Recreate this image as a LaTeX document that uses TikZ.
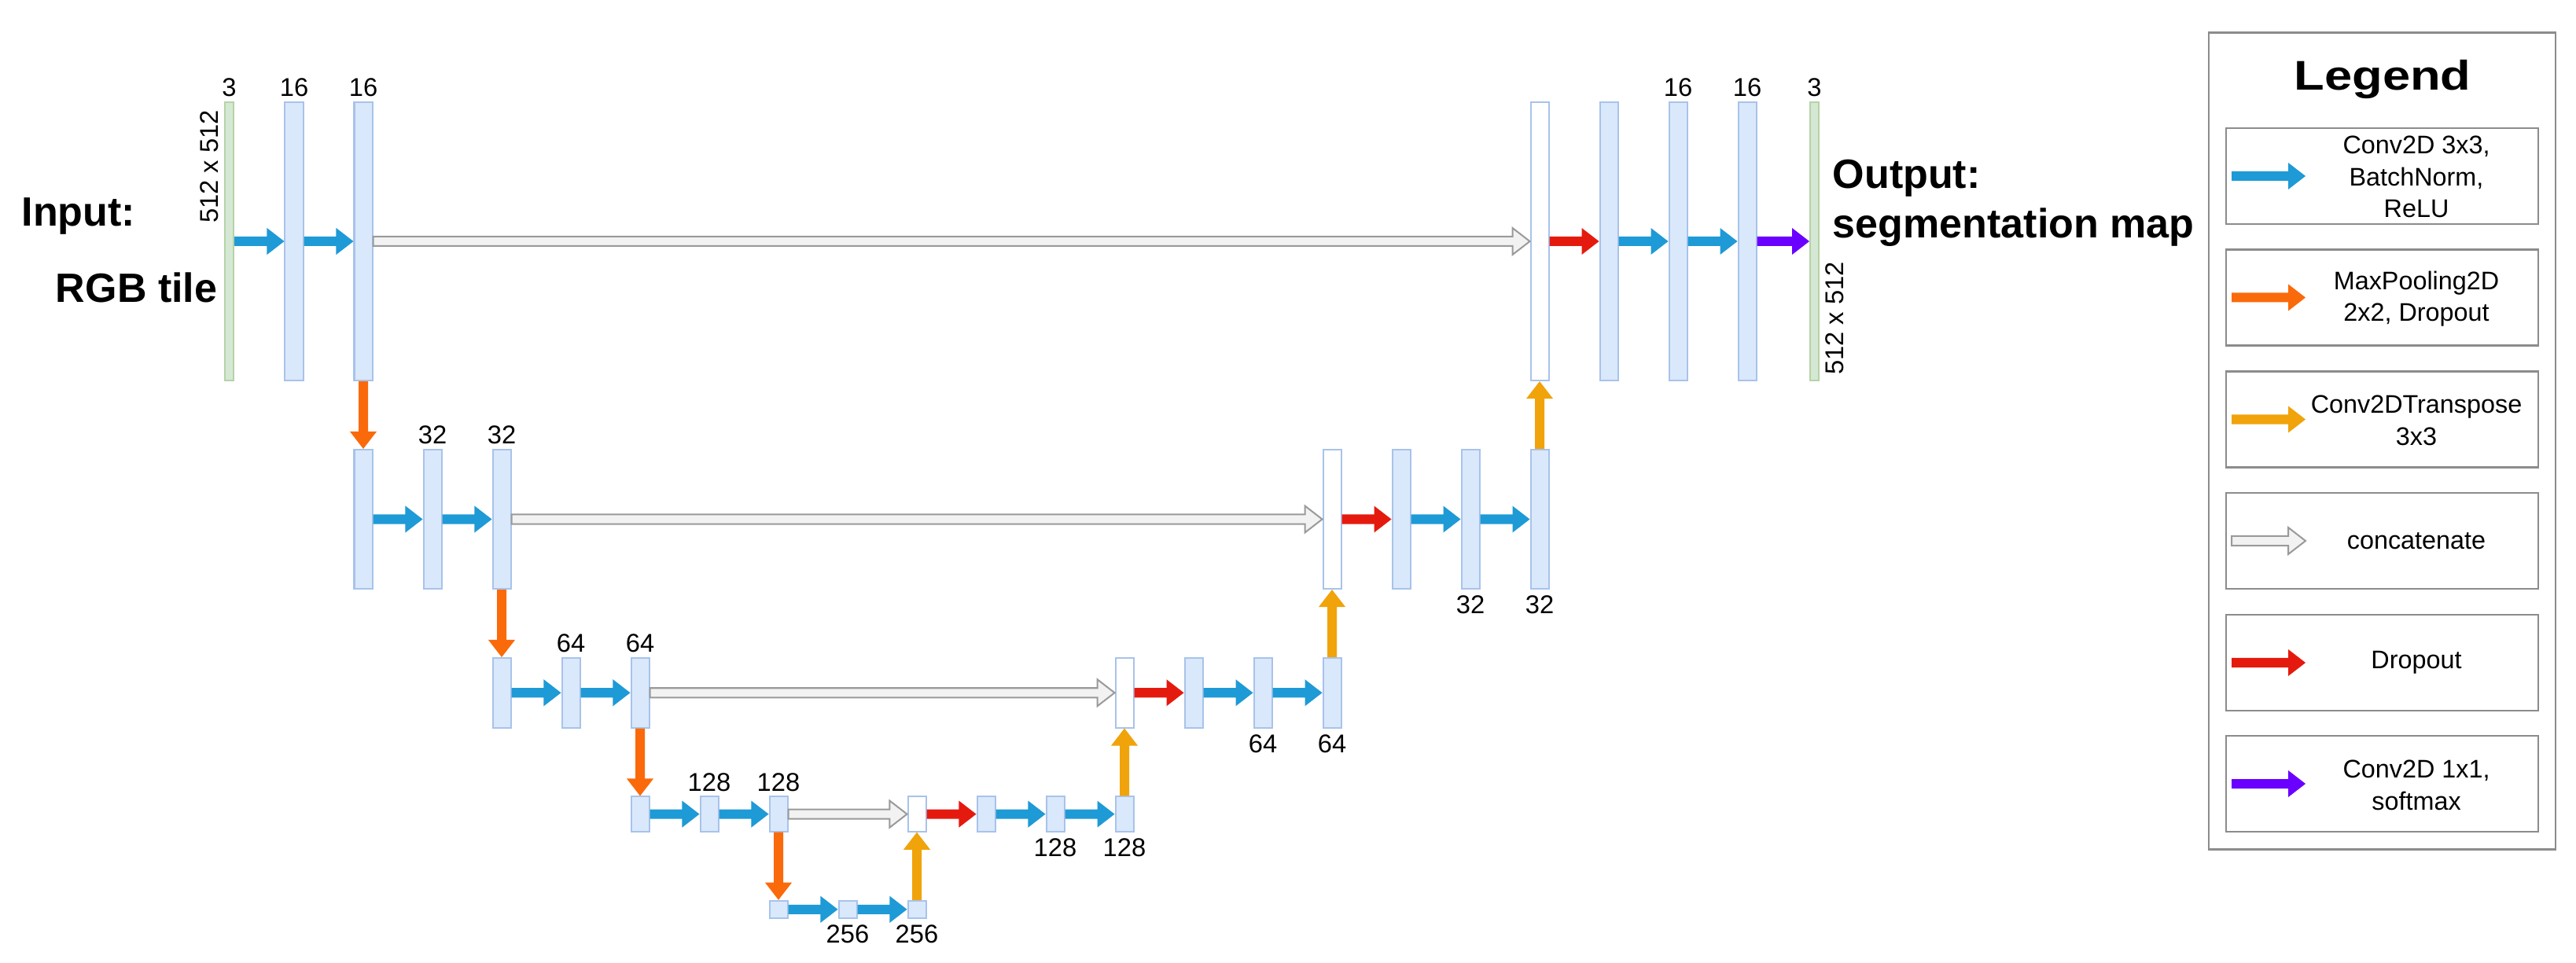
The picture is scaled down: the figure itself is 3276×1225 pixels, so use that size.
\documentclass[tikz,border=0pt]{standalone}
\usepackage{fontspec}
\setmainfont{Liberation Sans}
\newfontfamily\titlefam[FakeStretch=1.2]{Liberation Sans}
\usetikzlibrary{calc,positioning}
\definecolor{barfill}{HTML}{DAE8FC}
\definecolor{barline}{HTML}{A8C3EA}
\definecolor{grfill}{HTML}{D5E8D4}
\definecolor{grline}{HTML}{B5D3A7}
\definecolor{cblue}{HTML}{1E9AD6}
\definecolor{corange}{HTML}{FA6A0A}
\definecolor{cyellow}{HTML}{F0A30A}
\definecolor{cred}{HTML}{E51A0F}
\definecolor{cpurple}{HTML}{6A00FF}
\definecolor{cgrayfill}{HTML}{F2F2F2}
\definecolor{cgrayline}{HTML}{9A9A9A}
\definecolor{legline}{HTML}{8C8C8C}
\newcommand\arsw{0.06cm}
\newcommand\arhw{0.17cm}
\newcommand\arhl{0.22cm}
% horizontal fat arrow: style, start, tip
\newcommand\hfat[3]{\path[#1] let \p1=(#2), \p2=(#3) in
 (\x1,{\y1+\arsw}) -- ({\x2-\arhl},{\y1+\arsw}) -- ({\x2-\arhl},{\y1+\arhw}) -- (\x2,\y1)
 -- ({\x2-\arhl},{\y1-\arhw}) -- ({\x2-\arhl},{\y1-\arsw}) -- (\x1,{\y1-\arsw}) -- cycle;}
% vertical fat arrow: style, start, tip
\newcommand\vfat[3]{\path[#1] let \p1=(#2), \p2=(#3), \n1={ifthenelse(\y2>\y1,1,-1)} in
 ({\x1-\arsw},\y1) -- ({\x1-\arsw},{\y2-\n1*\arhl}) -- ({\x1-\arhw},{\y2-\n1*\arhl}) -- (\x1,\y2)
 -- ({\x1+\arhw},{\y2-\n1*\arhl}) -- ({\x1+\arsw},{\y2-\n1*\arhl}) -- ({\x1+\arsw},\y1) -- cycle;}
\newcommand\labfont{\fontsize{9.3pt}{11pt}\selectfont}
\newcommand\legfont{\fontsize{9.2pt}{11.5pt}\selectfont}
\newcommand\bigfont{\fontsize{14.8pt}{17pt}\selectfont\bfseries}
\newcommand\titfont{\fontsize{15pt}{17pt}\selectfont\titlefam\bfseries}
\begin{document}
\begin{tikzpicture}[x=0.01cm,y=-0.01cm,
  bar/.style={draw=barline, fill=barfill, line width=0.02cm, inner sep=0pt, minimum width=0.23cm},
  wbar/.style={bar, fill=white},
  gbar/.style={draw=grline, fill=grfill, line width=0.02cm, inner sep=0pt, minimum width=0.11cm, minimum height=3.54cm},
  hA/.style={minimum height=3.54cm},
  hB/.style={minimum height=1.77cm},
  hC/.style={minimum height=0.885cm},
  hD/.style={minimum height=0.4425cm},
  hE/.style={minimum height=0.221cm},
  lab/.style={inner sep=0pt, font=\labfont},
  big/.style={inner sep=0pt, font=\bigfont},
  conv/.style={fill=cblue},
  pool/.style={fill=corange},
  upconv/.style={fill=cyellow},
  cat/.style={fill=cgrayfill, draw=cgrayline, line width=0.02cm, line join=miter},
  drop/.style={fill=cred},
  soft/.style={fill=cpurple},
  legbox/.style={draw=legline, line width=0.025cm, minimum width=3.97cm, minimum height=1.22cm, inner sep=0pt},
  legtext/.style={font=\legfont, align=center, inner sep=0pt},
]
\fill[white] (0,0) rectangle (3276,1225);
\useasboundingbox (0,0) rectangle (3276,1225);

% ---------- bars ----------
% level 1 left
\node[gbar] (in) at (291.5,307) {};
\node[bar,hA] (e1a) at (374,307) {};
\node[bar,hA] (e1b) at (462,307) {};
% level 2 left
\node[bar,hB] (e2o) at (462,660.5) {};
\node[bar,hB] (e2a) at (550,660.5) {};
\node[bar,hB] (e2b) at (638,660.5) {};
% level 3 left
\node[bar,hC] (e3o) at (638,881.25) {};
\node[bar,hC] (e3a) at (726,881.25) {};
\node[bar,hC] (e3b) at (814,881.25) {};
% level 4 left
\node[bar,hD] (e4o) at (814,1035.6) {};
\node[bar,hD] (e4a) at (902,1035.6) {};
\node[bar,hD] (e4b) at (990,1035.6) {};
% level 5
\node[bar,hE] (b5o) at (990,1156.8) {};
\node[bar,hE] (b5a) at (1078,1156.8) {};
\node[bar,hE] (b5b) at (1166,1156.8) {};
% level 4 right
\node[wbar,hD] (d4w) at (1166,1035.6) {};
\node[bar,hD] (d4o) at (1254,1035.6) {};
\node[bar,hD] (d4a) at (1342,1035.6) {};
\node[bar,hD] (d4b) at (1430,1035.6) {};
% level 3 right
\node[wbar,hC] (d3w) at (1430,881.25) {};
\node[bar,hC] (d3o) at (1518,881.25) {};
\node[bar,hC] (d3a) at (1606,881.25) {};
\node[bar,hC] (d3b) at (1694,881.25) {};
% level 2 right
\node[wbar,hB] (d2w) at (1694,660.5) {};
\node[bar,hB] (d2o) at (1782,660.5) {};
\node[bar,hB] (d2a) at (1870,660.5) {};
\node[bar,hB] (d2b) at (1958,660.5) {};
% level 1 right
\node[wbar,hA] (d1w) at (1958,307) {};
\node[bar,hA] (d1o) at (2046,307) {};
\node[bar,hA] (d1a) at (2134,307) {};
\node[bar,hA] (d1b) at (2222,307) {};
\node[gbar] (out) at (2307.5,307) {};

% ---------- arrows ----------
% level 1
\hfat{conv}{in.east}{e1a.west}
\hfat{conv}{e1a.east}{e1b.west}
\hfat{cat}{e1b.east}{d1w.west}
\vfat{pool}{e1b.south}{e2o.north}
% level 2
\hfat{conv}{e2o.east}{e2a.west}
\hfat{conv}{e2a.east}{e2b.west}
\hfat{cat}{e2b.east}{d2w.west}
\vfat{pool}{e2b.south}{e3o.north}
% level 3
\hfat{conv}{e3o.east}{e3a.west}
\hfat{conv}{e3a.east}{e3b.west}
\hfat{cat}{e3b.east}{d3w.west}
\vfat{pool}{e3b.south}{e4o.north}
% level 4
\hfat{conv}{e4o.east}{e4a.west}
\hfat{conv}{e4a.east}{e4b.west}
\hfat{cat}{e4b.east}{d4w.west}
\vfat{pool}{e4b.south}{b5o.north}
% level 5
\hfat{conv}{b5o.east}{b5a.west}
\hfat{conv}{b5a.east}{b5b.west}
\vfat{upconv}{b5b.north}{d4w.south}
% level 4 right
\hfat{drop}{d4w.east}{d4o.west}
\hfat{conv}{d4o.east}{d4a.west}
\hfat{conv}{d4a.east}{d4b.west}
\vfat{upconv}{d4b.north}{d3w.south}
% level 3 right
\hfat{drop}{d3w.east}{d3o.west}
\hfat{conv}{d3o.east}{d3a.west}
\hfat{conv}{d3a.east}{d3b.west}
\vfat{upconv}{d3b.north}{d2w.south}
% level 2 right
\hfat{drop}{d2w.east}{d2o.west}
\hfat{conv}{d2o.east}{d2a.west}
\hfat{conv}{d2a.east}{d2b.west}
\vfat{upconv}{d2b.north}{d1w.south}
% level 1 right
\hfat{drop}{d1w.east}{d1o.west}
\hfat{conv}{d1o.east}{d1a.west}
\hfat{conv}{d1a.east}{d1b.west}
\hfat{soft}{d1b.east}{out.west}

% ---------- labels ----------
\node[lab, above=0.05cm of in] (tin) {3};
\node[lab, above=0.05cm of e1a] (te1a) {16};
\node[lab, above=0.05cm of e1b] (te1b) {16};
\node[lab, above=0.05cm of e2a] (te2a) {32};
\node[lab, above=0.05cm of e2b] (te2b) {32};
\node[lab, above=0.05cm of e3a] (te3a) {64};
\node[lab, above=0.05cm of e3b] (te3b) {64};
\node[lab, above=0.05cm of e4a] (te4a) {128};
\node[lab, above=0.05cm of e4b] (te4b) {128};
\node[lab, below=0.07cm of b5a] (tb5a) {256};
\node[lab, below=0.07cm of b5b] (tb5b) {256};
\node[lab, below=0.07cm of d4a] (td4a) {128};
\node[lab, below=0.07cm of d4b] (td4b) {128};
\node[lab, below=0.07cm of d3a] (td3a) {64};
\node[lab, below=0.07cm of d3b] (td3b) {64};
\node[lab, below=0.07cm of d2a] (td2a) {32};
\node[lab, below=0.07cm of d2b] (td2b) {32};
\node[lab, above=0.05cm of d1a] (td1a) {16};
\node[lab, above=0.05cm of d1b] (td1b) {16};
\node[lab, above=0.05cm of out] (tout3) {3};
\node[lab, rotate=90] (rin) at (266,212) {512 x 512};
\node[lab, rotate=90] (rout) at (2333,405) {512 x 512};

\node[big, anchor=base west] (tinput) at (27,288) {Input:};
\node[big, anchor=base east] (trgb) at (277,385) {RGB tile};
\node[big, anchor=base west] (toutput) at (2330,240) {Output:};
\node[big, anchor=base west] (tseg) at (2330,303) {segmentation map};

% ---------- legend ----------
\node[draw=legline, line width=0.025cm, minimum width=4.41cm, minimum height=10.38cm, inner sep=0pt] (leg) at (3029.5,561) {};
\node[inner sep=0pt, font=\titfont, anchor=base] (legt) at (3030,115) {Legend};
\node[legbox] (lb1) at (3029.5,224) {};
\node[legbox] (lb2) at (3029.5,378.5) {};
\node[legbox] (lb3) at (3029.5,533.5) {};
\node[legbox] (lb4) at (3029.5,688) {};
\node[legbox] (lb5) at (3029.5,843) {};
\node[legbox] (lb6) at (3029.5,997) {};
\coordinate (ls1) at (2838,224);   \coordinate (le1) at (2932,224);
\coordinate (ls2) at (2838,378.5); \coordinate (le2) at (2932,378.5);
\coordinate (ls3) at (2838,533.5); \coordinate (le3) at (2932,533.5);
\coordinate (ls4) at (2838,688);   \coordinate (le4) at (2932,688);
\coordinate (ls5) at (2838,843);   \coordinate (le5) at (2932,843);
\coordinate (ls6) at (2838,997);   \coordinate (le6) at (2932,997);
\hfat{conv}{ls1}{le1}
\hfat{pool}{ls2}{le2}
\hfat{upconv}{ls3}{le3}
\hfat{cat}{ls4}{le4}
\hfat{drop}{ls5}{le5}
\hfat{soft}{ls6}{le6}
\node[legtext] (lt1) at (3073,225) {Conv2D 3x3,\\BatchNorm,\\ReLU};
\node[legtext] (lt2) at (3073,380) {MaxPooling2D\\2x2, Dropout};
\node[legtext] (lt3) at (3073,535) {Conv2DTranspose\\3x3};
\node[legtext] (lt4) at (3073,688) {concatenate};
\node[legtext] (lt5) at (3073,843) {Dropout};
\node[legtext] (lt6) at (3073,999) {Conv2D 1x1,\\softmax};
\end{tikzpicture}
\end{document}
